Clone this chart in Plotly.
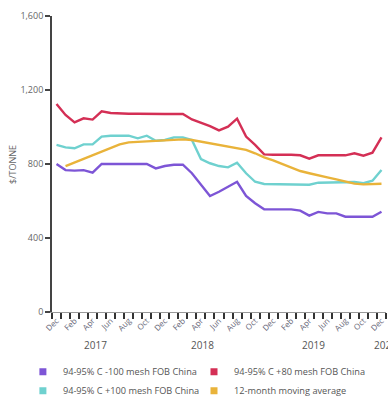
import plotly.graph_objects as go

months = ["Dec", "Jan", "Feb", "Mar", "Apr", "May", "Jun", "Jul", "Aug", "Sep", "Oct", "Nov"]
labels = [months[i % 12] for i in range(37)]  # Dec 2016 .. Dec 2019
idx = list(range(37))

purple = [800, 767, 764, 767, 753, 800, 800, 800, 800, 798, 800, 776, 789,
          796, 796, 750, 686, 627, 650, 677, 704, 627, 588, 555, 555,
          555, 555, 548, 521, 541, 533, 533, 515, 515, 515, 515, 542]
red = [1124, 1065, 1025, 1047, 1040, 1085, 1076, 1072, 1072, 1072, 1070, 1070, 1070,
       1070, 1070, 1041, 1025, 1005, 982, 1002, 1045, 948, 903, 852, 850,
       852, 850, 847, 829, 847, 847, 847, 847, 858, 845, 861, 944]
cyan = [903, 890, 885, 906, 906, 948, 953, 953, 953, 939, 953, 926, 930,
        944, 944, 930, 827, 804, 789, 782, 807, 750, 704, 692, 692,
        692, 690, 688, 688, 699, 699, 699, 699, 703, 696, 710, 768]
avg = [None, 789, 809, 829, 849, 869, 889, 906, 917, 920, 921, 922, 926,
       930, 933, 930, 921, 912, 903, 894, 888, 876, 858, 836, 820,
       800, 778, 762, 750, 741, 728, 717, 704, 694, 690, 690, 693]

names = ["94-95% C -100 mesh FOB China", "94-95% C +80 mesh FOB China",
         "94-95% C +100 mesh FOB China", "12-month moving average"]
colors = ["#7d55d6", "#d42f55", "#6fd1cf", "#e9b33a"]
series = [purple, red, cyan, avg]
legend_ids = ["legend", "legend2", "legend", "legend2"]

years = ["2017", "2018", "2019", "2020"]
year_pos = [4.3, 16.2, 28.5, 36.4]

yticks = [0, 400, 800, 1200, 1600]
ytext = ["0", "400", "800", "1,200", "1,600"]
ytitle = "$/TONNE"

font = "'Open Sans', Lato, sans-serif"
fig = go.Figure()
for name, col, ys in zip(names, colors, series):
    fig.add_trace(go.Scatter(x=idx, y=ys, mode="lines", line=dict(color=col, width=2.4),
                             showlegend=False, hoverinfo="skip"))
for name, col, lg in zip(names, colors, legend_ids):
    fig.add_trace(go.Scatter(x=[None], y=[None], mode="markers", name=name, legend=lg,
                             marker=dict(symbol="square", size=7, color=col)))

for yr, xp in zip(years, year_pos):
    fig.add_annotation(x=xp, y=0, xref="x", yref="paper", text=yr, showarrow=False,
                       yanchor="middle", xanchor="center", yshift=-33,
                       font=dict(size=10, color="#555", family=font))

fig.add_annotation(x=-0.12, y=0.5, xref="paper", yref="paper", text=ytitle, textangle=-90,
                   showarrow=False, xanchor="center", yanchor="middle",
                   font=dict(size=9, color="#666", family=font))

leg_common = dict(orientation="v", xref="container", yref="container", xanchor="left",
                  y=0.1, yanchor="top", itemwidth=30, tracegroupgap=0,
                  font=dict(size=9.2, color="#555", family=font), bgcolor="rgba(0,0,0,0)")

fig.update_layout(
    width=388, height=397,
    margin=dict(l=52, r=2, t=16, b=85, autoexpand=False),
    plot_bgcolor="white", paper_bgcolor="white",
    font=dict(family=font, color="#666", size=9),
    xaxis=dict(range=[-0.5, 36.5], tickmode="array", tickvals=idx[::2], ticktext=labels[::2],
               tickangle=-45, ticks="", ticklen=0, showgrid=False, zeroline=False,
               showline=True, linecolor="#999", linewidth=1.2,
               tickfont=dict(size=8, color="#667"),
               minor=dict(tickmode="array", tickvals=[i - 0.5 for i in range(38)],
                          ticks="outside", ticklen=6, tickwidth=1.5, tickcolor="#333",
                          showgrid=False)),
    yaxis=dict(range=[0, 1600], tickmode="array", tickvals=yticks, ticktext=ytext,
               ticks="outside", ticklen=5, tickwidth=1.5, tickcolor="#444",
               showgrid=False, zeroline=False, showline=True, linecolor="#444", linewidth=1.8,
               tickfont=dict(size=9, color="#666")),
    legend=dict(x=0.059, **leg_common),
    legend2=dict(x=0.5, **leg_common),
)

fig.write_html("out.html")
